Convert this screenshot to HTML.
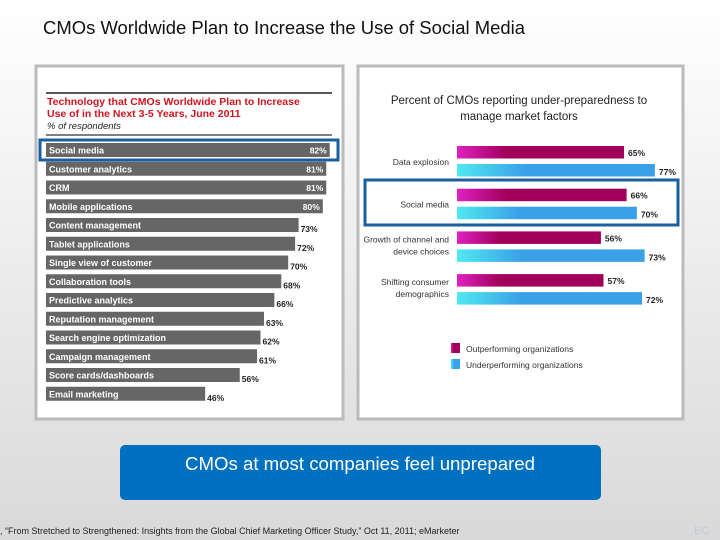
<!DOCTYPE html>
<html><head><meta charset="utf-8"><style>
body{margin:0;width:720px;height:540px;overflow:hidden;background:linear-gradient(#ffffff,#d9d9d9);font-family:"Liberation Sans",sans-serif}
</style></head><body>
<svg width="720" height="540" xmlns="http://www.w3.org/2000/svg" style="position:absolute;left:0;top:0">
<defs>
<linearGradient id="pg" x1="0" y1="0" x2="1" y2="0"><stop offset="0" stop-color="#e020c0"/><stop offset="0.3" stop-color="#a0005a"/><stop offset="1" stop-color="#a0005a"/></linearGradient>
<linearGradient id="bg" x1="0" y1="0" x2="1" y2="0"><stop offset="0" stop-color="#50e8f0"/><stop offset="0.35" stop-color="#3aa0e8"/><stop offset="1" stop-color="#3aa0e8"/></linearGradient>
</defs>
<text x="43" y="34" font-size="18.5" fill="#111" textLength="482" lengthAdjust="spacingAndGlyphs">CMOs Worldwide Plan to Increase the Use of Social Media</text>
<rect x="36" y="66" width="307" height="353" fill="#fff" stroke="#bbb" stroke-width="3"/>
<rect x="358" y="66" width="325" height="353" fill="#fff" stroke="#bbb" stroke-width="3"/>
<line x1="46" y1="93" x2="332" y2="93" stroke="#222" stroke-width="1.5"/>
<text font-size="10.5" font-weight="bold" fill="#d0141e"><tspan x="47" y="105">Technology that CMOs Worldwide Plan to Increase</tspan><tspan x="47" y="117">Use of in the Next 3-5 Years, June 2011</tspan></text>
<text x="47" y="129" font-size="9.5" font-style="italic" fill="#222">% of respondents</text>
<line x1="46" y1="135" x2="332" y2="135" stroke="#555" stroke-width="1.5"/>
<g id="left"></g>
<rect x="40" y="140" width="298" height="20" fill="none" stroke="#1a5fa0" stroke-width="3"/>
<text font-size="11.5" fill="#222" text-anchor="middle"><tspan x="519" y="104">Percent of CMOs reporting under-preparedness to</tspan><tspan x="519" y="120">manage market factors</tspan></text>
<g id="right"></g>
<rect x="365" y="180" width="313" height="45" fill="none" stroke="#1a5fa0" stroke-width="3"/>
<rect x="451" y="343" width="9" height="10" fill="url(#pg)"/>
<text x="466" y="352" font-size="8.5" fill="#333">Outperforming organizations</text>
<rect x="451" y="359" width="9" height="10" fill="url(#bg)"/>
<text x="466" y="368" font-size="8.5" fill="#333">Underperforming organizations</text>
<rect x="120" y="445" width="481" height="55" rx="5" fill="#0070c0"/>
<text x="360" y="470" font-size="18.5" fill="#fff" text-anchor="middle" textLength="350" lengthAdjust="spacingAndGlyphs">CMOs at most companies feel unprepared</text>
<text x="0" y="534" font-size="9" fill="#222">, “From Stretched to Strengthened: Insights from the Global Chief Marketing Officer Study,” Oct 11, 2011; eMarketer</text>
<text x="694" y="534" font-size="11" fill="#bcd">EC</text>
</svg>
<script>
const leftCats=["Social media","Customer analytics","CRM","Mobile applications","Content management","Tablet applications","Single view of customer","Collaboration tools","Predictive analytics","Reputation management","Search engine optimization","Campaign management","Score cards/dashboards","Email marketing"];
const leftVals=[82,81,81,80,73,72,70,68,66,63,62,61,56,46];
const rightCats=[["Data explosion"],["Social media"],["Growth of channel and","device choices"],["Shifting consumer","demographics"]];
const outVals=[65,66,56,57];
const underVals=[77,70,73,72];
const NS="http://www.w3.org/2000/svg";
function mk(t,a,p,txt){const e=document.createElementNS(NS,t);for(const k in a)e.setAttribute(k,a[k]);if(txt!==undefined)e.textContent=txt;p.appendChild(e);return e;}
const L=document.getElementById('left');
const lx=v=>46+v*3.46, ly=i=>143+i*18.75;
leftVals.forEach((v,i)=>{
 const r=mk('rect',{x:46,y:ly(i),width:lx(v)-46,height:14,fill:'#666'},L);
 
 
 const t=mk('text',{x:49,y:ly(i)+10.5,'font-size':9,'font-weight':'bold',fill:'#fff'},L,leftCats[i]);
 
 
 const inside=v>=80;
 const vt=mk('text',{x:inside?lx(v)-3:lx(v)+2,y:ly(i)+(inside?10.5:14),'font-size':8.5,'font-weight':'bold',fill:inside?'#fff':'#222','text-anchor':inside?'end':'start'},L,v+'%');
 
 
});
const R=document.getElementById('right');
const rx=v=>457+v*2.57, gy=i=>146+i*42.7;
rightCats.forEach((c,i)=>{
 const y=gy(i);
 const p=mk('rect',{x:457,y:y,width:rx(outVals[i])-457,height:12.5,fill:'url(#pg)'},R);
 
 
 const b=mk('rect',{x:457,y:y+18,width:rx(underVals[i])-457,height:12.5,fill:'url(#bg)'},R);
 
 
 const t1=mk('text',{x:rx(outVals[i])+4,y:y+10,'font-size':8.5,'font-weight':'bold',fill:'#222'},R,outVals[i]+'%');
 
 
 const t2=mk('text',{x:rx(underVals[i])+4,y:y+29,'font-size':8.5,'font-weight':'bold',fill:'#222'},R,underVals[i]+'%');
 
 
 const cy=y+(c.length>1?11:19);
 c.forEach((line,j)=>{
  const lt=mk('text',{x:449,y:cy+j*12,'font-size':8.5,fill:'#333','text-anchor':'end'},R,line);
  
  
 });
});
</script>
</body></html>
